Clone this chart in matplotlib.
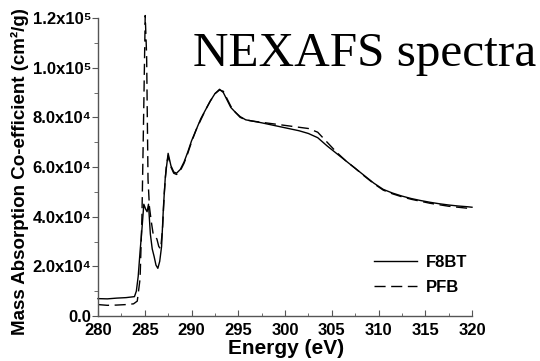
import matplotlib
matplotlib.use('Agg')
import matplotlib.pyplot as plt
from matplotlib.ticker import MultipleLocator, FixedLocator, FixedFormatter

# F8BT spectrum (energy in eV, absorption in units of 1000 cm^2/g)
f8bt_energy = [280, 281, 282, 283, 283.9, 284.1, 284.3, 284.5, 284.7, 284.9,
               285.1, 285.25, 285.4, 285.6, 285.8, 286.0, 286.2, 286.4, 286.6, 286.8,
               287.0, 287.2, 287.5, 287.8, 288.1, 288.4, 288.8, 289.2, 289.6, 290.0,
               290.5, 291.0, 291.5, 292.0, 292.5, 293.0, 293.4, 293.8, 294.2, 294.7,
               295.2, 295.8, 296.5, 297.5, 298.5, 299.5, 300.5, 301.5, 302.5, 303.5,
               304.5, 305.5, 306.5, 307.5, 308.5, 309.5, 310.5, 311.5, 312.5, 313.5,
               314.5, 315.5, 316.5, 317.5, 318.5, 319.5, 320]
f8bt_abs = [7.0, 6.9, 7.2, 7.4, 7.8, 10, 16, 26, 35, 45,
            43, 42, 45, 33, 27, 24, 20.5, 19.2, 22, 28,
            44, 56, 65.5, 60.5, 58, 57.5, 59, 62, 66, 70.5,
            75, 79.5, 83, 86.5, 89.5, 91.3, 90, 87, 84, 82,
            80.3, 79, 78.5, 77.8, 77, 76.2, 75.4, 74.6, 73.5, 71.8,
            68.5, 65.5, 62.5, 59.5, 56.5, 53.5, 51, 49.5, 48.3, 47.3,
            46.5, 45.8, 45.2, 44.7, 44.3, 44.0, 43.8]

# PFB spectrum
pfb_energy = [280, 281, 282, 283, 283.8, 284.2, 284.5, 284.7, 284.9, 285.05,
              285.2, 285.35, 285.5, 285.7, 285.9, 286.1, 286.3, 286.5, 286.7, 286.9,
              287.1, 287.3, 287.5, 287.8, 288.1, 288.4, 288.8, 289.2, 289.6, 290.0,
              290.5, 291.0, 291.5, 292.0, 292.5, 293.0, 293.4, 293.8, 294.2, 294.7,
              295.2, 295.8, 296.5, 297.5, 298.5, 299.5, 300.5, 301.5, 302.5, 303.5,
              304.5, 305.5, 306.5, 307.5, 308.5, 309.5, 310.5, 311.5, 312.5, 313.5,
              314.5, 315.5, 316.5, 317.5, 318.5, 319.5, 320]
pfb_abs = [4.6, 4.3, 4.4, 4.6, 4.9, 6, 15, 40, 85, 121,
           105, 55, 44, 38, 33, 32, 31, 28, 27, 35,
           50, 60, 64.5, 60, 57.5, 57, 58.5, 61.5, 65.5, 70,
           75, 79, 83, 86.5, 89.5, 91, 90.5, 87.5, 84.5, 82,
           80, 79, 78.5, 78, 77.5, 77, 76.5, 76, 75.5, 74,
           70, 66, 62.5, 59.5, 56.3, 53.3, 50.7, 49.2, 48, 47,
           46.2, 45.4, 44.8, 44.2, 43.8, 43.4, 43.2]

y_ticks = [0, 20000, 40000, 60000, 80000, 100000, 120000]
y_tick_labels = ['0.0', '2.0x10⁴', '4.0x10⁴', '6.0x10⁴', '8.0x10⁴', '1.0x10⁵', '1.2x10⁵']

sans = ['Liberation Sans', 'DejaVu Sans']
plt.rcParams['font.family'] = sans
plt.rcParams['font.weight'] = 'bold'

fig = plt.figure(figsize=(5.4, 3.61), dpi=100)
ax = fig.add_axes([98/540, 1 - 316/361, 374/540, 298/361])

ax.plot(f8bt_energy, [v * 1000 for v in f8bt_abs], color='black', lw=1.0,
        label='F8BT', clip_on=False)
ax.plot(pfb_energy, [v * 1000 for v in pfb_abs], color='black', lw=1.0,
        dashes=(8, 4), label='PFB', clip_on=False)

ax.set_xlim(280, 320)
ax.set_ylim(0, 120000)

for side in ['top', 'right']:
    ax.spines[side].set_visible(False)
for side in ['left', 'bottom']:
    ax.spines[side].set_color('#555555')
    ax.spines[side].set_linewidth(1.0)

ax.xaxis.set_major_locator(MultipleLocator(5))
ax.xaxis.set_minor_locator(MultipleLocator(2.5))
ax.yaxis.set_major_locator(FixedLocator(y_ticks))
ax.yaxis.set_major_formatter(FixedFormatter(y_tick_labels))
ax.yaxis.set_minor_locator(MultipleLocator(10000))

ax.tick_params(axis='x', which='both', direction='in', colors='#555555',
               labelcolor='black', labelsize=12, pad=5)
ax.tick_params(axis='x', which='major', length=4)
ax.tick_params(axis='x', which='minor', length=2)
ax.tick_params(axis='y', which='both', direction='out', colors='#555555',
               labelcolor='black', labelsize=12, pad=1)
ax.tick_params(axis='y', which='major', length=4)
ax.tick_params(axis='y', which='minor', length=3)

fig.text(286/540, 1 - 349/361, 'Energy (eV)', ha='center', va='center',
         fontsize=15, fontweight='bold')
fig.text(20/540, 1 - 172/361, 'Mass Absorption Co-efficient (cm²/g)',
         rotation=90, ha='center', va='center', fontsize=13.5, fontweight='bold')

fig.text(193/540, 1 - 66/361, 'NEXAFS spectra', family='Liberation Serif',
         fontweight='normal', fontsize=35.5, ha='left', va='baseline')

ax.legend(loc='lower left', bbox_to_anchor=(0.697, 0.02), frameon=False,
          handlelength=2.6, handletextpad=0.55, labelspacing=0.6,
          prop={'size': 12, 'weight': 'bold'})

fig.savefig('out.png', dpi=100)
